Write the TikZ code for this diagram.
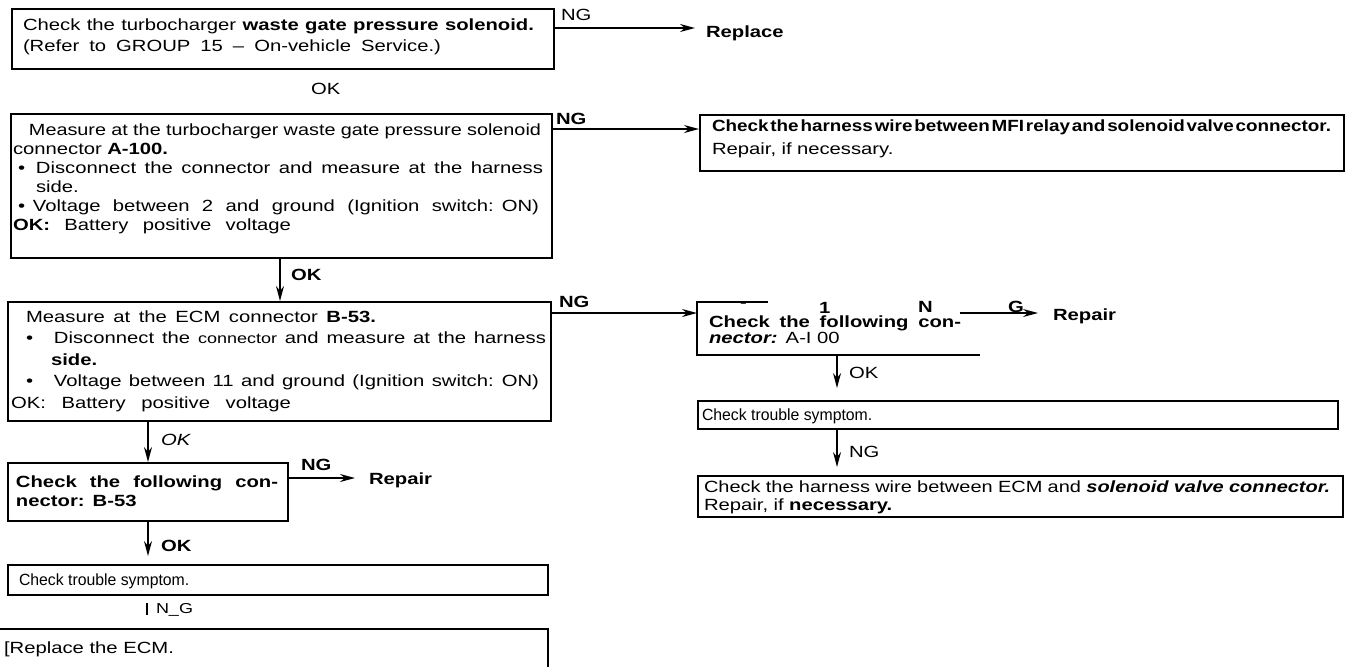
\documentclass[tikz,border=0pt]{standalone}
\usepackage{fontspec}
\setmainfont{Liberation Sans}[FakeStretch=1.25]
\usepackage{graphicx}
\usetikzlibrary{arrows.meta}
\newcommand\fs[1]{\fontsize{8.1}{#1}\selectfont}
\newsavebox\jlbox
% justified line of a given width (shrunk if too long)
\newcommand\jl[2]{\sbox\jlbox{#2}%
  \ifdim\wd\jlbox>#1\relax\resizebox{#1}{\height}{\usebox\jlbox}%
  \else\makebox[#1][s]{\spaceskip=0.28em plus 3em\relax #2}\fi}
\newcommand\bul[2]{\hspace*{#1}\makebox[#2][l]{\textbullet}}
\newcommand\nrw[1]{\scalebox{0.78}[1]{#1}}
\begin{document}
\begin{tikzpicture}[x=0.5pt, y=-0.5pt, line width=1pt,
    frame/.style={draw, inner sep=0pt, anchor=north west},
    txt/.style={inner sep=0pt, anchor=base west, align=left, font=\fs{9.5pt}},
    lbl/.style={inner sep=0pt, anchor=base west, font=\fs{9pt}},
    blbl/.style={lbl, font=\bfseries\fs{9pt}},
    arr/.style={-{Stealth[length=7.5pt,width=4pt]}, line width=0.75pt}]
\useasboundingbox (0,0) rectangle (1347,666);
\coordinate (xa) at (280,0);
\coordinate (xb) at (148,0);
\coordinate (xr) at (837,0);

% left column
\node[frame, minimum width=271pt, minimum height=30pt] (chk1) at (11,8) {};
\node[txt, text width=256pt, font=\fs{10.5pt}] (chk1t) at (22,30)
    {\jl{255.5pt}{Check the turbocharger \textbf{waste gate pressure solenoid.}}\\
     \jl{209pt}{(Refer to GROUP 15 -- On-vehicle Service.)}};
\node[lbl] (ng1) at (560,20) {NG};
\node[blbl] (rep1) at (705,37) {Replace};
\node[lbl] (ok1) at (310,94) {OK};

\node[frame, minimum width=270.5pt, minimum height=72pt] (msr1) at (10,113) {};
\node[txt, text width=265pt] (msr1t) at (12,135)
    {\hspace*{8pt}\jl{256pt}{Measure at the turbocharger waste gate pressure solenoid}\\
     connector \textbf{A-100.}\\
     \bul{2.5pt}{9pt}\jl{253.5pt}{Disconnect the connector and measure at the harness}\\
     \hspace*{11.5pt}side.\\
     \bul{2.5pt}{7.5pt}\jl{253pt}{Voltage between 2 and ground (Ignition switch: ON)}\\
     \jl{139pt}{\textbf{OK:} Battery positive voltage}};
\node[blbl] (ng2) at (555,124) {NG};
\node[blbl] (ok2) at (290,280) {OK};

\node[frame, minimum width=271.5pt, minimum height=59.5pt] (msr2) at (7,301) {};
\node[txt, text width=268pt, font=\fs{10.75pt}] (msr2t) at (10,322)
    {\hspace*{7.5pt}\jl{175pt}{Measure at the ECM connector \textbf{B-53.}}\\
     \bul{7.5pt}{14pt}\jl{246pt}{Disconnect the {\fontsize{7.2}{8}\selectfont connector} and measure at the harness}\\
     \hspace*{20pt}\textbf{side.}\\
     \bul{7.5pt}{14pt}\jl{242.5pt}{Voltage between 11 and ground (Ignition switch: ON)}\\
     \jl{140pt}{OK: Battery positive voltage}};
\node[blbl] (ng3) at (558,307) {NG};
\node[lbl, font=\itshape\fs{9pt}] (ok3) at (160,445) {OK};

\node[frame, minimum width=140pt, minimum height=29pt] (con1) at (7,462) {};
\node[txt, text width=131pt, font=\bfseries\fs{9.5pt}] (con1t) at (15,487)
    {\jl{131pt}{Check the following con-}\\ nector: B-53};
\node[blbl] (ng5) at (300,470) {NG};
\node[blbl] (rep2) at (368,484) {Repair};
\node[blbl] (ok5) at (160,551) {OK};

\node[frame, minimum width=270pt, minimum height=15pt] (sym1) at (7,564) {};
\node[txt] (sym1t) at (18,585) {\nrw{Check trouble symptom.}};
\coordinate (n1) at (147,603);
\coordinate (n2) at (147,615);
\node[lbl, font=\fontsize{7.2}{8}\selectfont] (ng6) at (155,613) {N\_G};

\node[frame, minimum width=276pt, minimum height=40pt] (ecm1) at (-5,628) {};
\node[txt] (ecm1t) at (3,653) {\jl{85pt}{[Replace the ECM.}};

% right column
\node[frame, minimum width=322pt, minimum height=28pt] (hrn1) at (699,114) {};
\node[txt, text width=310pt, font=\fs{11.5pt}] (hrn1t) at (711,131)
    {\resizebox{309.5pt}{\height}{\textbf{\spaceskip=1pt Check the harness wire between MFI relay and solenoid valve connector.}}\\
     Repair, if necessary.};

\node[inner sep=0pt, anchor=north west, minimum width=140.5pt, minimum height=25.5pt] (con2) at (697,302) {};
\node[txt, text width=127pt, font=\fs{8pt}] (con2t) at (708,327)
    {\textbf{\jl{126pt}{Check the following con-}}\\ \textbf{\textit{nector:}} A-I 00};
\node[blbl] (dsh) at (739,307) {-};
\node[blbl] (one) at (818,313) {1};
\node[blbl] (ngN) at (917,312) {N};
\node[blbl] (ngG) at (1007,312) {G};
\node[blbl] (rep3) at (1052,320) {Repair};
\coordinate (a6) at (960,313);
\node[lbl] (ok6) at (848,378) {OK};

\node[frame, minimum width=320pt, minimum height=14pt] (sym2) at (697,400) {};
\node[txt] (sym2t) at (701,420) {\nrw{Check trouble symptom.}};
\node[lbl] (ng7) at (848,457) {NG};

\node[frame, minimum width=322.5pt, minimum height=20.5pt] (hrn2) at (697,475) {};
\node[txt, text width=315pt, font=\fs{9pt}] (hrn2t) at (703,492)
    {\jl{313pt}{Check the harness wire between ECM and \textbf{\textit{solenoid valve connector.}}}\\
     Repair, if \textbf{necessary.}};

% connectors
\path (chk1.north east) ++(0,20) coordinate (a1);
\path (msr1.north east) ++(0,16) coordinate (a2);
\path (msr2.north east) ++(0,12) coordinate (a3);
\path (con1.north east) ++(0,16) coordinate (a5);
\draw[arr, shorten >=5pt] (a1) -- (a1 -| rep1.west);
\draw[arr] (a2) -- (a2 -| hrn1.west);
\draw[arr] (a3) -- (a3 -| con2.west);
\draw[arr, shorten >=6.5pt] (a5) -- (a5 -| rep2.west);
\draw[arr, shorten >=7pt] (a6) -- (a6 -| rep3.west);
\draw[arr] (xa |- msr1.south) -- (xa |- msr2.north);
\draw[arr] (xb |- msr2.south) -- (xb |- con1.north);
\draw[arr, shorten >=4pt] (xb |- con1.south) -- (xb |- sym1.north);
\draw (n1) -- (n2);
\draw (con2.north west) ++(71,0) -- (con2.north west) -- (con2.south west) -- (con2.south east);
\draw[arr, shorten >=6pt] (xr |- con2.south) -- (xr |- sym2.north);
\draw[arr, shorten >=4pt] (xr |- sym2.south) -- (xr |- hrn2.north);
\end{tikzpicture}
\end{document}
